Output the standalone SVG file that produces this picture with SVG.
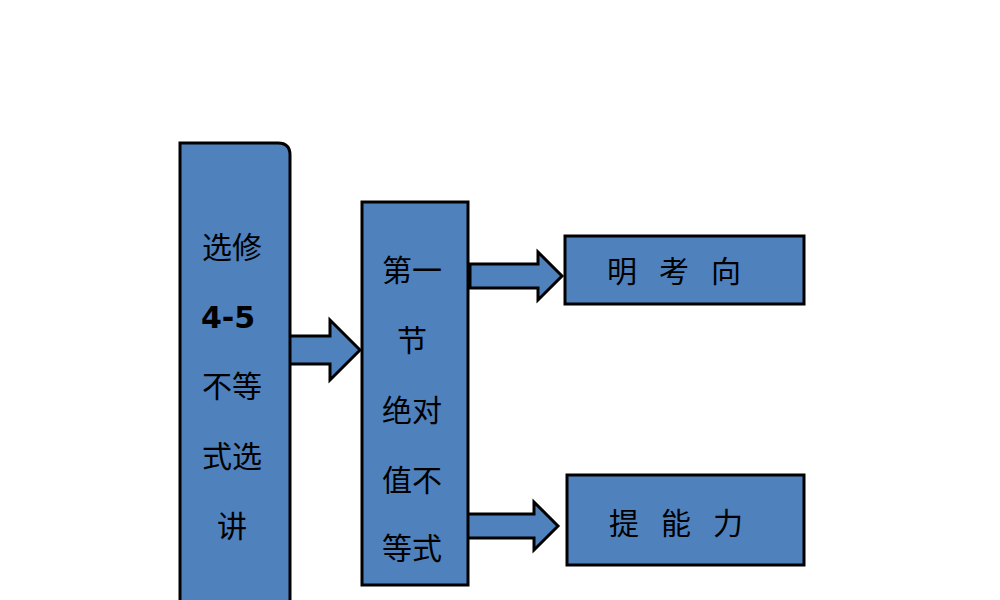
<svg xmlns="http://www.w3.org/2000/svg" width="1000" height="600" viewBox="0 0 1000 600">
<style>
.b{fill:#4f81bd;stroke:#000;stroke-width:3}
.t{font-family:"Noto Sans CJK SC","Noto Sans",sans-serif;font-size:30px;fill:#000;text-anchor:middle}
</style>
<rect width="1000" height="600" fill="#fff"/>
<g id="connectors">
<path class="b" d="M288,336 H330 V320 L360,350 L330,380 V364 H288 Z"/>
<path class="b" d="M470,264 H538 V252 L562,276 L538,300 V288 H470 Z"/>
<path class="b" d="M466,514 H534 V502 L558,526 L534,550 V538 H466 Z"/>
</g>
<g id="left">
<path class="b" d="M180,143 H278 Q290,143 290,155 V604 H180 Z"/>
<text class="t" x="232" y="258">选修</text>
<text class="t" x="228" y="328" style="font-weight:bold;font-family:'DejaVu Sans',sans-serif">4-5</text>
<text class="t" x="232" y="397">不等</text>
<text class="t" x="232" y="467">式选</text>
<text class="t" x="232" y="537">讲</text>
</g>
<g id="middle">
<rect class="b" x="362" y="202" width="106" height="383"/>
<text class="t" x="412" y="281">第一</text>
<text class="t" x="412" y="351">节</text>
<text class="t" x="412" y="421">绝对</text>
<text class="t" x="412" y="491">值不</text>
<text class="t" x="412" y="559">等式</text>
</g>
<g id="top">
<rect class="b" x="565" y="236" width="239" height="68"/>
<text class="t" x="685" y="282" style="letter-spacing:22px">明考向</text>
</g>
<g id="bottom">
<rect class="b" x="567" y="475" width="237" height="90"/>
<text class="t" x="687" y="534" style="letter-spacing:22px">提能力</text>
</g>
</svg>
